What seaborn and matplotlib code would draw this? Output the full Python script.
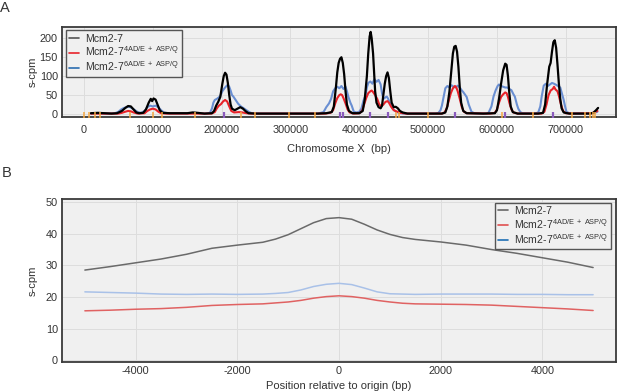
import numpy as np
import pandas as pd
import matplotlib
matplotlib.use("Agg")
import matplotlib.pyplot as plt
from matplotlib.lines import Line2D
import seaborn as sns

# ---------------- Panel A data (positions in kb, values s-cpm) ----------------
wt_kb = [10, 20, 30, 40, 48, 55, 60, 64, 68, 72, 76, 80, 86, 90, 94, 97, 99, 101, 104, 107, 110, 114, 125, 150,
         158, 165, 175, 186, 189, 192, 195, 198, 201, 203, 205, 207, 209, 211, 213, 215, 219, 223, 227, 231, 235,
         239, 250, 300, 340, 352, 360, 363, 366, 368, 370, 372, 374, 376, 378, 380, 382, 385, 390, 400, 405, 408,
         411, 413, 415, 416.5, 418, 420, 421.5, 423, 425, 428, 431, 433, 435, 437, 439, 441, 443, 445, 447, 450,
         453, 456, 459, 463, 470, 500, 520, 525, 528, 531, 534, 536, 538, 540, 542, 544, 546, 548, 551, 556, 580,
         597, 600, 603, 606, 609, 612, 614, 616, 618, 620, 623, 630, 660, 667, 670, 673, 676, 678, 680, 682, 684,
         686, 688, 690, 692, 694, 697, 705, 735, 740, 744, 747]
wt_val = [2, 3, 2, 1, 2, 8, 16, 21, 20, 12, 4, 2, 3, 12, 30, 40, 34, 41, 38, 24, 10, 3, 2, 2,
          4, 3, 1, 2, 8, 22, 32, 45, 80, 100, 109, 104, 82, 50, 25, 14, 10, 14, 18, 14, 7,
          2, 1, 1, 1, 2, 5, 20, 70, 110, 135, 146, 150, 135, 105, 60, 25, 8, 2, 2, 8, 40,
          100, 160, 205, 217, 200, 160, 110, 60, 30, 18, 15, 22, 50, 80, 100, 110, 95, 60, 30, 18,
          19, 15, 8, 4, 1, 1, 1, 4, 20, 60, 120, 160, 178, 180, 165, 125, 70, 30, 8, 2, 1,
          2, 10, 40, 80, 115, 133, 130, 100, 55, 20, 5, 1, 1, 3, 25, 80, 125, 135, 165, 190, 195,
          175, 130, 80, 40, 15, 4, 1, 1, 3, 10, 16]

ad4_kb = [10, 30, 50, 55, 60, 64, 68, 72, 78, 88, 92, 96, 100, 104, 108, 112, 120, 185, 190, 193, 196, 199, 202,
          205, 208, 211, 214, 218, 225, 230, 236, 242, 350, 358, 362, 365, 368, 371, 373, 375, 377, 380, 383, 386,
          392, 400, 404, 407, 410, 413, 416, 418, 420, 423, 426, 429, 432, 435, 438, 441, 443, 446, 450, 455, 460,
          468, 520, 524, 527, 530, 533, 536, 539, 541, 543, 546, 549, 552, 556, 590, 597, 600, 603, 606, 609, 612,
          614, 616, 618, 621, 624, 630, 665, 669, 672, 675, 678, 681, 683, 685, 688, 690, 693, 696, 700, 710, 738,
          742, 746]
ad4_val = [1, 1, 1, 3, 6, 8, 7, 4, 1, 2, 8, 12, 14, 12, 6, 2, 1, 1, 5, 15, 22, 26, 33,
           37, 33, 20, 8, 4, 5, 4, 2, 1, 1, 3, 10, 28, 42, 50, 52, 50, 42, 28, 12, 4,
           1, 2, 8, 25, 42, 55, 60, 62, 58, 50, 40, 25, 20, 25, 32, 34, 30, 20, 10, 6, 3,
           1, 1, 4, 15, 35, 55, 68, 74, 70, 60, 40, 18, 6, 2, 1, 3, 12, 30, 45, 52, 57,
           55, 45, 30, 12, 4, 1, 1, 6, 25, 50, 62, 66, 72, 65, 60, 48, 25, 8, 2, 1, 2,
           5, 8]

ad6_kb = [10, 30, 45, 50, 54, 58, 62, 66, 70, 74, 78, 83, 88, 92, 96, 100, 104, 108, 112, 116, 122, 150, 160,
          175, 183, 186, 188, 190, 193, 196, 198, 201, 204, 207, 209, 211, 213, 215, 217, 220, 224, 228, 232, 236,
          240, 244, 255, 340, 348, 352, 356, 359, 362, 365, 368, 371, 374, 377, 380, 382, 384, 387, 389, 392, 396,
          400, 403, 406, 409, 411, 413, 416, 419, 422, 425, 428, 431, 433, 435, 438, 440, 442, 445, 448, 452, 457,
          465, 510, 515, 518, 520, 523, 525, 528, 531, 534, 537, 540, 543, 546, 549, 551, 554, 556, 559, 563, 567,
          585, 588, 592, 595, 598, 601, 603, 606, 609, 612, 615, 618, 621, 624, 626, 629, 631, 634, 637, 655, 660,
          663, 665, 668, 671, 674, 677, 680, 683, 687, 690, 692, 695, 697, 699, 701, 705, 735, 742, 746]
ad6_val = [1, 1, 2, 6, 12, 16, 18, 19, 15, 10, 5, 3, 8, 18, 22, 20, 22, 18, 10, 4, 2, 2, 3,
           1, 3, 15, 30, 37, 40, 44, 48, 60, 68, 74, 77, 72, 62, 50, 46, 38, 27, 20, 15, 10,
           5, 2, 1, 1, 5, 18, 28, 40, 60, 68, 72, 68, 74, 66, 72, 60, 46, 30, 22, 6, 4,
           6, 14, 35, 50, 70, 82, 86, 80, 92, 85, 90, 78, 55, 40, 44, 46, 40, 27, 15, 8, 3,
           1, 1, 3, 10, 22, 50, 68, 74, 70, 76, 72, 70, 75, 70, 62, 58, 50, 45, 25, 6, 2,
           1, 4, 20, 46, 62, 74, 78, 74, 72, 70, 70, 66, 63, 52, 46, 25, 14, 5, 2, 1, 4,
           20, 46, 75, 80, 74, 78, 82, 80, 76, 72, 70, 50, 37, 20, 6, 2, 1, 3, 6]

orange_origins = [0, 7700, 15500, 23000, 67000, 99700, 113000, 161000, 228000, 248500, 298500, 336000,
                  453500, 457000, 500400, 608000, 653000, 709500, 728000, 734500, 739000, 743000]
purple_origins = [204000, 372500, 376000, 416000, 442000, 539000, 611000, 682000]
a_xticks = [0, 100000, 200000, 300000, 400000, 500000, 600000, 700000]
a_yticks = [0, 50, 100, 150, 200]

# ---------------- Panel B data ----------------
pos_b = [-5000, -4500, -4000, -3500, -3000, -2500, -2000, -1500, -1250, -1000, -750, -500, -250, 0,
         250, 500, 750, 1000, 1250, 1500, 2000, 2500, 3000, 3500, 4000, 4500, 5000]
wt_b = [28.5, 29.6, 30.8, 32.0, 33.5, 35.4, 36.4, 37.3, 38.3, 39.7, 41.6, 43.5, 44.8, 45.1,
        44.6, 43.0, 41.2, 39.8, 38.8, 38.2, 37.4, 36.4, 35.0, 33.8, 32.4, 31.0, 29.3]
ad4_b = [15.6, 15.8, 16.1, 16.3, 16.7, 17.3, 17.6, 17.8, 18.1, 18.4, 18.9, 19.6, 20.1, 20.35,
         20.1, 19.6, 18.9, 18.4, 18.0, 17.8, 17.7, 17.6, 17.4, 17.0, 16.6, 16.2, 15.7]
ad6_b = [21.6, 21.4, 21.2, 20.9, 20.8, 20.9, 20.8, 20.9, 21.1, 21.4, 22.2, 23.3, 24.0, 24.3,
         23.9, 22.8, 21.6, 21.0, 20.9, 20.8, 20.9, 20.9, 20.9, 20.8, 20.8, 20.7, 20.7]
b_xticks = [-4000, -2000, 0, 2000, 4000]
b_yticks = [0, 10, 20, 30, 40, 50]

labels = ["Mcm2-7",
          r"Mcm2-7$^{\mathregular{4AD/E\ +\ ASP/Q}}$",
          r"Mcm2-7$^{\mathregular{6AD/E\ +\ ASP/Q}}$"]

# ---------------- style ----------------
sns.set_theme(style="whitegrid", rc={
    "axes.facecolor": "#f0f0f0",
    "axes.edgecolor": "#3a3a3a",
    "axes.linewidth": 1.3,
    "grid.color": "#dddddd",
    "grid.linewidth": 0.7,
    "text.color": "#333333",
    "axes.labelcolor": "#333333",
    "xtick.color": "#333333",
    "ytick.color": "#333333",
})
plt.rcParams["font.family"] = ["Liberation Sans", "DejaVu Sans"]
plt.rcParams["mathtext.fontset"] = "custom"
plt.rcParams["mathtext.rm"] = "Liberation Sans"
plt.rcParams["mathtext.it"] = "Liberation Sans:italic"

W, H = 617, 391
fig = plt.figure(figsize=(W / 100, H / 100), dpi=100)

def axrect(l, t, r, b):
    return [l / W, 1 - b / H, (r - l) / W, (b - t) / H]

fs_tick = 7.8
fs_lab = 8.0
fs_leg = 7.6

# ---------------- Panel A ----------------
axA = fig.add_axes(axrect(62, 27, 616, 117))
dfA = pd.concat([
    pd.DataFrame({"pos": np.array(ad6_kb) * 1000, "val": ad6_val, "s": "ad6"}),
    pd.DataFrame({"pos": np.array(ad4_kb) * 1000, "val": ad4_val, "s": "ad4"}),
    pd.DataFrame({"pos": np.array(wt_kb) * 1000, "val": wt_val, "s": "wt"}),
])
for key, col, lw in [("ad6", "#6a8fd2", 1.5), ("ad4", "#e8232a", 1.5), ("wt", "#000000", 1.6)]:
    d = dfA[dfA["s"] == key]
    sns.lineplot(data=d, x="pos", y="val", ax=axA, color=col, lw=lw,
                 estimator=None, sort=False, legend=False)
axA.vlines(orange_origins, -11, 4, colors="#f5a742", lw=1.1, clip_on=False, zorder=5)
axA.vlines(purple_origins, -11, 4, colors="#8a5bbd", lw=1.6, clip_on=False, zorder=5)
axA.set_xlim(-32000, 773000)
axA.set_ylim(-8, 230)
axA.set_xticks(a_xticks)
axA.set_xticklabels([str(v) for v in a_xticks])
axA.set_yticks(a_yticks)
axA.tick_params(axis="y", length=0, labelsize=fs_tick, pad=3)
axA.tick_params(axis="x", length=0, labelsize=fs_tick, pad=6)
axA.set_xlabel("Chromosome X  (bp)", fontsize=fs_lab, labelpad=6)
axA.set_ylabel("s-cpm", fontsize=fs_lab)
axA.yaxis.set_label_coords(-0.043, 0.5)

hA = [Line2D([], [], color="#555555", lw=1.2),
      Line2D([], [], color="#e8232a", lw=1.2),
      Line2D([], [], color="#2b6cb0", lw=1.2)]
legA = axA.legend(hA, labels, loc="upper left", bbox_to_anchor=(0.003, 0.985),
                  fontsize=fs_leg, frameon=True, fancybox=False, framealpha=1,
                  facecolor="#f0f0f0", edgecolor="#555555", borderpad=0.3,
                  labelspacing=0.1, handlelength=1.0, handletextpad=0.5, borderaxespad=0.2)
legA.get_frame().set_linewidth(1.0)

# ---------------- Panel B ----------------
axB = fig.add_axes(axrect(62, 199, 616, 362.3))
dfB = pd.DataFrame({"pos": pos_b * 3,
                    "val": wt_b + ad4_b + ad6_b,
                    "s": ["wt"] * len(pos_b) + ["ad4"] * len(pos_b) + ["ad6"] * len(pos_b)})
for key, col, lw in [("ad6", "#a9c1e8", 1.1), ("ad4", "#e06262", 1.1), ("wt", "#6a6a6a", 1.1)]:
    d = dfB[dfB["s"] == key]
    sns.lineplot(data=d, x="pos", y="val", ax=axB, color=col, lw=lw,
                 estimator=None, sort=False, legend=False)
axB.set_xlim(-5450, 5450)
axB.set_ylim(-0.7, 51)
axB.set_xticks(b_xticks)
axB.set_xticklabels([str(v) for v in b_xticks])
axB.set_yticks(b_yticks)
axB.tick_params(length=0, labelsize=fs_tick, pad=3)
axB.set_xlabel("Position relative to origin (bp)", fontsize=fs_lab, labelpad=3)
axB.set_ylabel("s-cpm", fontsize=fs_lab)
axB.yaxis.set_label_coords(-0.043, 0.5)

hB = [Line2D([], [], color="#666666", lw=1.2),
      Line2D([], [], color="#e05050", lw=1.2),
      Line2D([], [], color="#1f6fb4", lw=1.2)]
legB = axB.legend(hB, labels, loc="upper right", bbox_to_anchor=(0.995, 0.99),
                  fontsize=fs_leg, frameon=True, fancybox=False, framealpha=1,
                  facecolor="#f0f0f0", edgecolor="#555555", borderpad=0.3,
                  labelspacing=0.1, handlelength=1.0, handletextpad=0.5, borderaxespad=0.2)
legB.get_frame().set_linewidth(1.0)

fig.text(0.0, 1 - 1 / H, "A", fontsize=10.5, va="top", ha="left", color="#333333")
fig.text(0.003, 1 - 166 / H, "B", fontsize=10.5, va="top", ha="left", color="#333333")

fig.savefig("out.png", dpi=100)
